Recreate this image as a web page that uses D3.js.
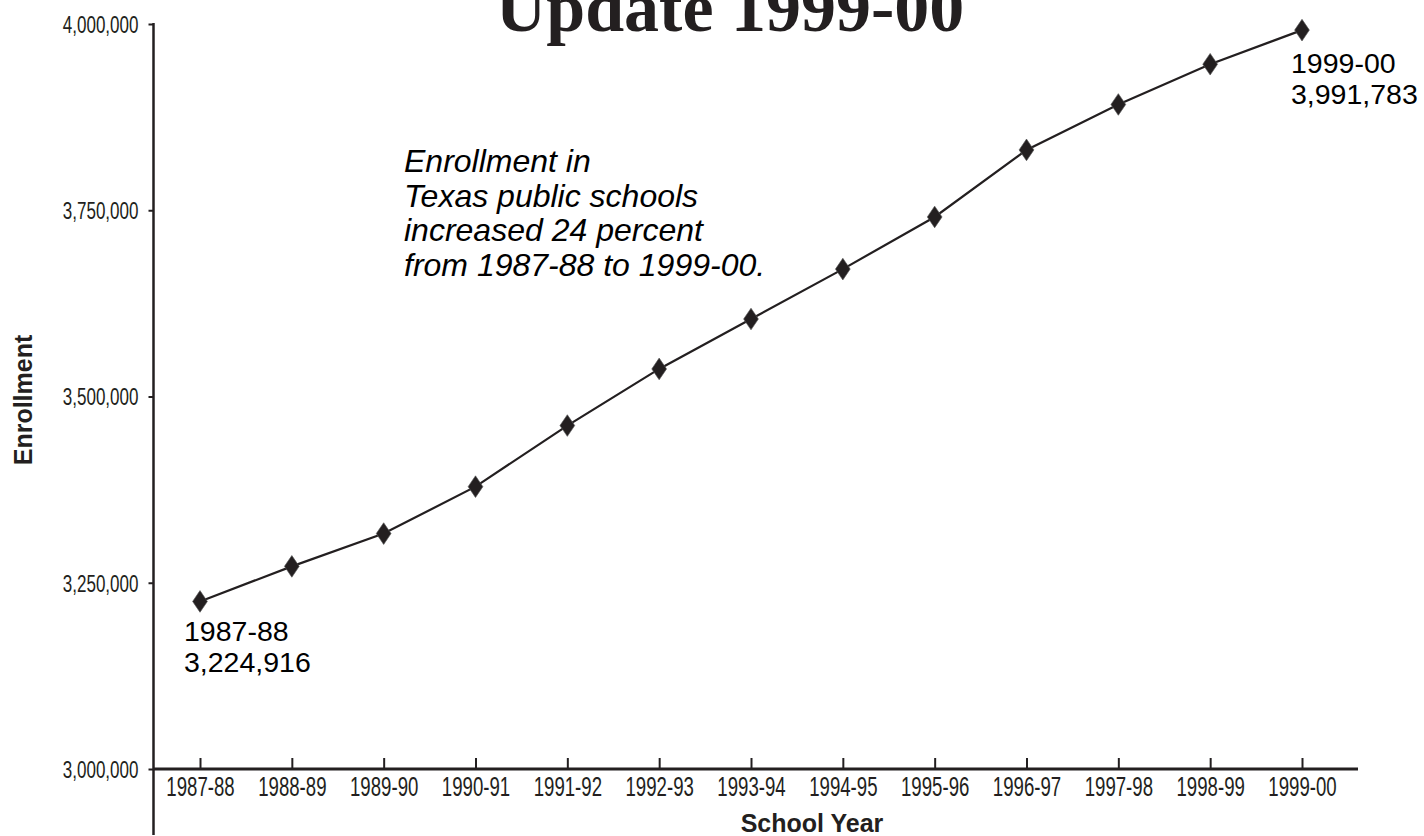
<!DOCTYPE html>
<html>
<head>
<meta charset="utf-8">
<script src="https://cdn.jsdelivr.net/npm/d3@7"></script>
<style>
  html, body { margin: 0; padding: 0; background: #fff; }
  svg { display: block; }
</style>
</head>
<body>
<svg id="chart" width="1424" height="836"></svg>
<script>
// ---- data ----
const schoolYears = ["1987-88","1988-89","1989-90","1990-91","1991-92","1992-93","1993-94","1994-95","1995-96","1996-97","1997-98","1998-99","1999-00"];
const enrollment = [3224916, 3272000, 3316000, 3379000, 3461000, 3537000, 3604000, 3671000, 3741000, 3831000, 3892000, 3946000, 3991783];
const yTickValues = [3000000, 3250000, 3500000, 3750000, 4000000];
const titleText = "Update 1999-00";
const yAxisTitle = "Enrollment";
const xAxisTitle = "School Year";
const noteLines = ["Enrollment in", "Texas public schools", "increased 24 percent", "from 1987-88 to 1999-00."];
const startLabel = ["1987-88", "3,224,916"];
const endLabel = ["1999-00", "3,991,783"];

// ---- layout ----
const ink = "#231f20";
const svg = d3.select("#chart");
const x = d3.scalePoint().domain(schoolYears).range([200, 1302]);
const y = d3.scaleLinear().domain([3000000, 4000000]).range([769, 24]);
const axisX0 = 153.5, axisX1 = 1358, axisYBottom = 835;
const condX = 0.69, condY = 0.71;

// title (cut at top)
svg.append("text")
  .attr("x", 730).attr("y", 31)
  .attr("text-anchor", "middle")
  .attr("font-family", "'Liberation Serif','Times New Roman',serif")
  .attr("font-weight", "bold")
  .attr("font-size", 70)
  .attr("fill", ink)
  .text(titleText);

// y axis
const gy = svg.append("g").attr("transform", `translate(${axisX0},0)`)
  .call(d3.axisLeft(y).tickValues(yTickValues).tickSize(5).tickFormat(d3.format(",")));
gy.select(".domain").remove();
gy.selectAll(".tick line").attr("stroke", ink).attr("stroke-width", 2);
gy.selectAll(".tick text")
  .attr("font-family", "'Liberation Sans',Arial,sans-serif")
  .attr("font-size", 24)
  .attr("fill", ink)
  .attr("x", -15 / condY)
  .attr("dy", "0.35em")
  .attr("transform", `scale(${condY},1)`);
svg.append("line")
  .attr("x1", axisX0).attr("x2", axisX0)
  .attr("y1", y(4000000) - 1).attr("y2", axisYBottom)
  .attr("stroke", ink).attr("stroke-width", 2.5);

// x axis
const gx = svg.append("g").attr("transform", `translate(0,${y(3000000)})`)
  .call(d3.axisBottom(x).tickSize(-11).tickPadding(0));
gx.select(".domain").remove();
gx.selectAll(".tick line").attr("stroke", ink).attr("stroke-width", 2);
gx.selectAll(".tick text")
  .attr("font-family", "'Liberation Sans',Arial,sans-serif")
  .attr("font-size", 27)
  .attr("fill", ink)
  .attr("y", 27)
  .attr("dy", 0)
  .attr("transform", `scale(${condX},1)`);
svg.append("line")
  .attr("x1", axisX0).attr("x2", axisX1)
  .attr("y1", y(3000000)).attr("y2", y(3000000))
  .attr("stroke", ink).attr("stroke-width", 2.8);

// axis titles
svg.append("text")
  .attr("transform", `translate(32,400) rotate(-90)`)
  .attr("text-anchor", "middle")
  .attr("font-family", "'Liberation Sans',Arial,sans-serif")
  .attr("font-weight", "bold")
  .attr("font-size", 25)
  .attr("fill", ink)
  .text(yAxisTitle);
svg.append("text")
  .attr("x", 812).attr("y", 832)
  .attr("text-anchor", "middle")
  .attr("font-family", "'Liberation Sans',Arial,sans-serif")
  .attr("font-weight", "bold")
  .attr("font-size", 25)
  .attr("fill", ink)
  .text(xAxisTitle);

// line
const line = d3.line().x((d, i) => x(schoolYears[i])).y(d => y(d));
svg.append("path")
  .datum(enrollment)
  .attr("d", line)
  .attr("fill", "none")
  .attr("stroke", ink)
  .attr("stroke-width", 2.2);

// markers
const diamond = d3.symbol().type(d3.symbolDiamond).size(135);
svg.selectAll("path.marker")
  .data(enrollment)
  .join("path")
  .attr("class", "marker")
  .attr("d", diamond)
  .attr("transform", (d, i) => `translate(${x(schoolYears[i])},${y(d)}) scale(1.18,1)`)
  .attr("fill", ink)
  .attr("stroke", "#555")
  .attr("stroke-width", 0.6);

// note
const note = svg.append("text")
  .attr("font-family", "'Liberation Sans',Arial,sans-serif")
  .attr("font-style", "italic")
  .attr("font-size", 32)
  .attr("fill", "#000");
noteLines.forEach((t, i) => {
  note.append("tspan").attr("x", 404).attr("y", 172 + i * 34.6).text(t);
});

// endpoint labels
function endLabelText(lines, x0, y0) {
  const t = svg.append("text")
    .attr("font-family", "'Liberation Sans',Arial,sans-serif")
    .attr("font-size", 28.5)
    .attr("fill", "#000");
  lines.forEach((s, i) => t.append("tspan").attr("x", x0).attr("y", y0 + i * 31).text(s));
}
endLabelText(startLabel, 184, 641);
endLabelText(endLabel, 1291, 73);
</script>
</body>
</html>
